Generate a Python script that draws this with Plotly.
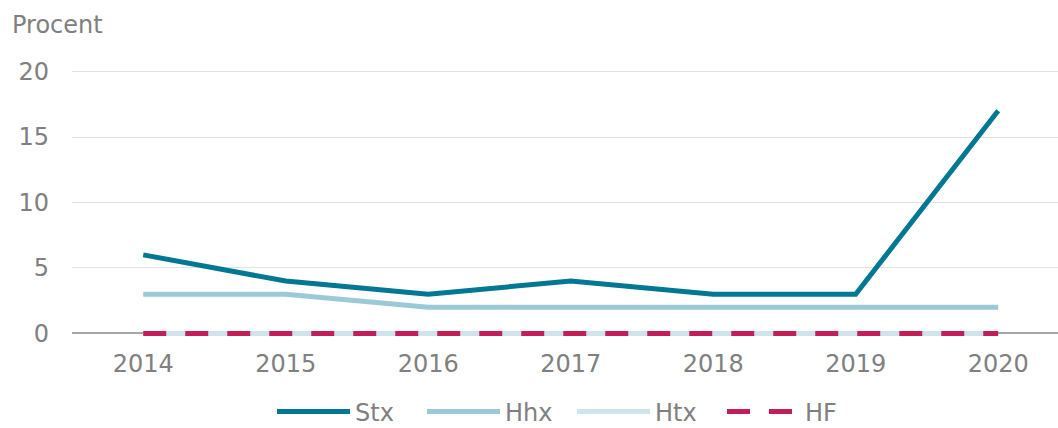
import plotly.graph_objects as go

years = ["2014", "2015", "2016", "2017", "2018", "2019", "2020"]
stx = [6, 4, 3, 4, 3, 3, 17]
hhx = [3, 3, 2, 2, 2, 2, 2]
htx = [0, 0, 0, 0, 0, 0, 0]
hf = [0, 0, 0, 0, 0, 0, 0]

FONT = "DejaVu Sans"
GREY = "#808080"
FS = 24

L, R, T, B = 72, 0, 65, 88
W, H = 1058, 428
PW, PH = W - L - R, H - T - B

fig = go.Figure()
fig.add_trace(go.Scatter(x=years, y=stx, name="Stx", mode="lines",
                         line=dict(color="#007894", width=5)))
fig.add_trace(go.Scatter(x=years, y=hhx, name="Hhx", mode="lines",
                         line=dict(color="#9bcad6", width=5)))
fig.add_trace(go.Scatter(x=years, y=htx, name="Htx", mode="lines",
                         line=dict(color="#cfe4ea", width=5)))
fig.add_trace(go.Scatter(x=years, y=hf, name="HF", mode="lines",
                         line=dict(color="#c41e5a", width=5, dash="23px,19px")))

fig.update_layout(
    width=W, height=H,
    margin=dict(l=L, r=R, t=T, b=B, autoexpand=False),
    paper_bgcolor="white", plot_bgcolor="white",
    font=dict(family=FONT, size=FS, color=GREY),
    showlegend=True,
    legend=dict(orientation="h", x=(572 - L) / PW, xanchor="center",
                y=(H - B - 412) / PH, yanchor="middle",
                font=dict(size=FS, color=GREY), itemwidth=73,
                entrywidth=62, entrywidthmode="pixels",
                traceorder="normal", bgcolor="rgba(0,0,0,0)"),
    xaxis=dict(type="category", range=[-0.5, 6.42], showgrid=False,
               showline=False, zeroline=False, ticks="", automargin=False,
               tickfont=dict(size=FS, color=GREY), ticklabelstandoff=7),
    yaxis=dict(range=[-0.5, 20.5], tickvals=[0, 5, 10, 15, 20],
               showgrid=True, gridcolor="#e2e2e2", gridwidth=1,
               zeroline=True, zerolinecolor="#a6a6a6", zerolinewidth=2,
               showline=False, ticks="", automargin=False,
               tickfont=dict(size=FS, color=GREY), ticklabelstandoff=22),
    annotations=[dict(text="Procent", xref="paper", yref="paper",
                      x=(10 - L) / PW, y=(H - B - 25) / PH,
                      xanchor="left", yanchor="middle", showarrow=False,
                      font=dict(size=FS, color=GREY))],
)

fig.write_html("out.html", config={"displayModeBar": False},
               post_script="document.body.style.margin='0';document.body.style.overflow='hidden';")
